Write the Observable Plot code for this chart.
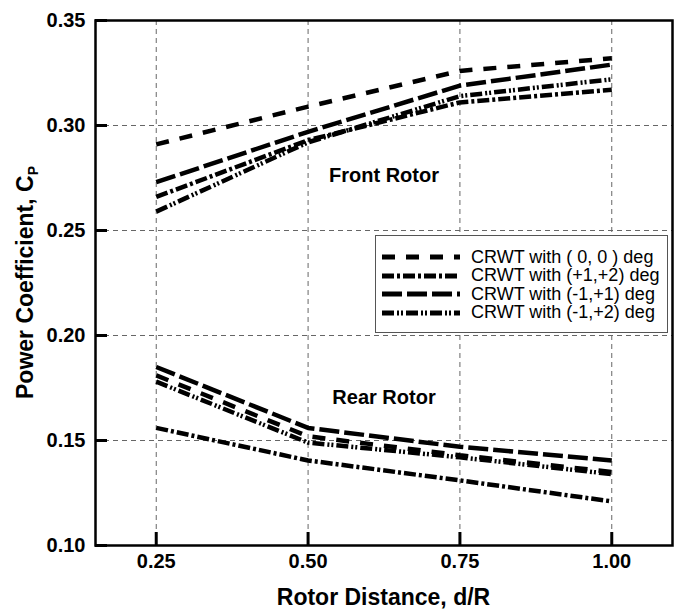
<!DOCTYPE html>
<html><head><meta charset="utf-8">
<script src="https://cdn.jsdelivr.net/npm/d3@7"></script>
<script src="https://cdn.jsdelivr.net/npm/@observablehq/plot@0.6"></script>
<style>
body{margin:0;background:#fff;font-family:"Liberation Sans",Arial,sans-serif;}
#wrap{position:relative;width:681px;height:609px;}
#legend{position:absolute;left:375px;top:235px;width:293px;height:98px;box-sizing:border-box;border:1.5px solid #555;background:#fff;padding-top:12px;}
.row{display:flex;align-items:center;height:18.5px;}
.row svg{margin-left:6px;margin-right:11px;flex:none;}
.row span{font-size:18px;color:#000;white-space:nowrap;}
</style></head><body><div id="wrap"></div>
<script>
// ---- data ----
const distance = [0.25, 0.50, 0.75, 1.00];
const seriesNames = ["CRWT with ( 0, 0 ) deg", "CRWT with (+1,+2) deg", "CRWT with (-1,+1) deg", "CRWT with (-1,+2) deg"];
const front_0_0   = [0.291, 0.309, 0.326, 0.332];
const front_p1_p2 = [0.266, 0.293, 0.311, 0.317];
const front_m1_p1 = [0.273, 0.297, 0.319, 0.329];
const front_m1_p2 = [0.259, 0.292, 0.314, 0.322];
const rear_0_0    = [0.181, 0.152, 0.143, 0.135];
const rear_p1_p2  = [0.156, 0.1405, 0.131, 0.121];
const rear_m1_p1  = [0.185, 0.156, 0.147, 0.1405];
const rear_m1_p2  = [0.178, 0.149, 0.142, 0.134];
const xTicks = [0.25, 0.50, 0.75, 1.00];
const yTicks = [0.10, 0.15, 0.20, 0.25, 0.30, 0.35];
const annotationLabels = ["Front Rotor", "Rear Rotor"];
const annotationX = [0.625, 0.625];
const annotationY = [0.2762, 0.1705];
const xLabel = "Rotor Distance, d/R";
const yLabel = "Power Coefficient, C";
const yLabelSub = "P";

// ---- styles ----
const dashes = ["13,11", "12,3,3,3", "20,5", "12,3,2,2,2,3"];

const frontSets = [front_0_0, front_p1_p2, front_m1_p1, front_m1_p2];
const rearSets = [rear_0_0, rear_p1_p2, rear_m1_p1, rear_m1_p2];

const W = 681, H = 609, mL = 95, mR = 9, mT = 20, mB = 64;
const plotW = W - mL - mR, plotH = H - mT - mB;

const rowsOf = (vals, rotor) => distance.map((d, i) => ({d, cp: vals[i], rotor}));
const annotations = annotationLabels.map((label, i) => ({label, x: annotationX[i], y: annotationY[i]}));

const lineMarks = seriesNames.map((name, k) =>
  Plot.line([...rowsOf(frontSets[k], "front"), ...rowsOf(rearSets[k], "rear")], {
    x: "d", y: "cp", z: "rotor", stroke: "#000", strokeWidth: 4.5,
    strokeDasharray: dashes[k], strokeLinecap: "butt", strokeLinejoin: "miter"
  })
);

const chart = Plot.plot({
  width: W, height: H,
  marginLeft: mL, marginRight: mR, marginTop: mT, marginBottom: mB,
  style: {fontFamily: "'Liberation Sans', Arial, sans-serif", color: "#000", background: "#fff"},
  x: {domain: [0.15, 1.1]},
  y: {domain: [0.10, 0.35]},
  marks: [
    Plot.gridX(xTicks, {stroke: "#666", strokeOpacity: 1, strokeWidth: 1, strokeDasharray: "5,4"}),
    Plot.gridY(yTicks, {stroke: "#666", strokeOpacity: 1, strokeWidth: 1, strokeDasharray: "5,4"}),
    ...lineMarks,
    Plot.text(annotations, {x: "x", y: "y", text: "label", fontSize: 20, fontWeight: "bold", fill: "#000"}),
    Plot.tickX(xTicks, {x: d => d, insetTop: plotH - 13, strokeWidth: 3, stroke: "#000"}),
    Plot.tickY(yTicks, {y: d => d, insetRight: plotW - 12, strokeWidth: 3, stroke: "#000"}),
    Plot.axisX(xTicks, {tickSize: 0, tickPadding: 8, tickFormat: d => d.toFixed(2), fontSize: 20, fontWeight: "bold", label: null}),
    Plot.axisY(yTicks, {tickSize: 0, tickPadding: 10, tickFormat: d => d.toFixed(2), fontSize: 20, fontWeight: "bold", label: null}),
    Plot.frame({stroke: "#000", strokeWidth: 2.5})
  ]
});

const wrap = document.getElementById("wrap");
wrap.appendChild(chart);

const svg = d3.select(chart);
svg.append("text")
  .attr("x", mL + plotW / 2).attr("y", 605)
  .attr("text-anchor", "middle").attr("font-size", 23).attr("font-weight", "bold")
  .attr("fill", "#000").text(xLabel);
const yl = svg.append("text")
  .attr("transform", `translate(33,${mT + plotH / 2}) rotate(-90)`)
  .attr("text-anchor", "middle").attr("font-size", 23).attr("font-weight", "bold").attr("fill", "#000");
yl.append("tspan").text(yLabel);
yl.append("tspan").attr("font-size", 14).attr("dy", 5).text(yLabelSub);

// legend
const legend = document.createElement("div");
legend.id = "legend";
seriesNames.forEach((name, k) => {
  const row = document.createElement("div");
  row.className = "row";
  const s = d3.create("svg").attr("width", 78).attr("height", 8);
  s.append("line").attr("x1", 0).attr("x2", 78).attr("y1", 4).attr("y2", 4)
    .attr("stroke", "#000").attr("stroke-width", 5).attr("stroke-dasharray", dashes[k]);
  row.appendChild(s.node());
  const t = document.createElement("span");
  t.textContent = name;
  row.appendChild(t);
  legend.appendChild(row);
});
wrap.appendChild(legend);
</script>
</body></html>
